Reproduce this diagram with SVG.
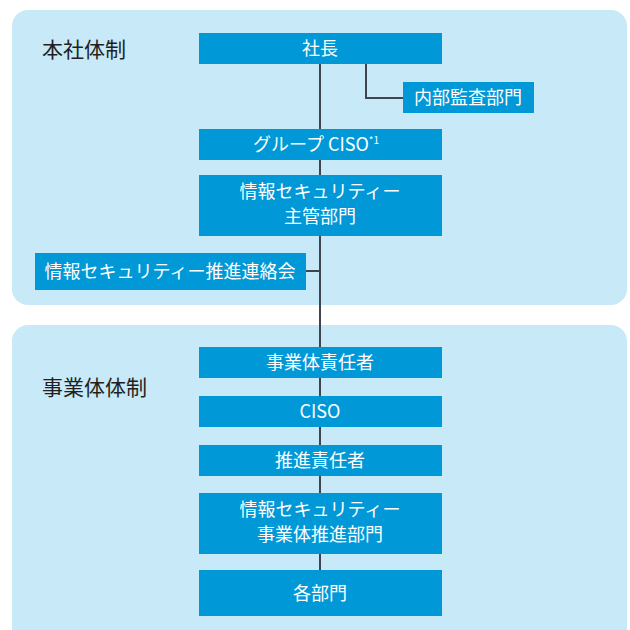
<svg xmlns="http://www.w3.org/2000/svg" width="630" height="630" viewBox="0 0 630 630">
<style>
.panel{fill:#c8e9f8}
.box{fill:#0098d7}
.t{font-family:"Noto Sans CJK JP","Noto Sans",sans-serif;font-size:18px;fill:#ffffff;text-anchor:middle}
.lab{font-family:"Noto Sans CJK JP","Noto Sans",sans-serif;font-size:21px;fill:#231f20}
.ln{stroke:#3d4650;stroke-width:2;fill:none}
</style>
<rect class="panel" x="12" y="10" width="615" height="295" rx="16"/>
<rect class="panel" x="12" y="325" width="615" height="330" rx="16"/>
<text class="lab" x="42" y="57">本社体制</text>
<text class="lab" x="42" y="395">事業体体制</text>
<g id="connectors">
<path class="ln" d="M320 63 V570"/>
<path class="ln" d="M366 63 V98 H403"/>
<path class="ln" d="M306 271 H320"/>
</g>
<g id="n1"><rect class="box" x="199" y="33" width="243" height="31"/><text class="t" x="320" y="55">社長</text></g>
<g id="n2"><rect class="box" x="403" y="82" width="131" height="31"/><text class="t" x="468" y="104">内部監査部門</text></g>
<g id="n3"><rect class="box" x="199" y="129" width="243" height="31"/><text class="t" x="316" y="151">グループ CISO<tspan font-size="10" dy="-7">*1</tspan></text></g>
<g id="n4"><rect class="box" x="199" y="175" width="243" height="61"/><text class="t" x="320" y="198">情報セキュリティー</text><text class="t" x="320" y="223">主管部門</text></g>
<g id="n5"><rect class="box" x="35" y="253" width="271" height="37"/><text class="t" x="170" y="278">情報セキュリティー推進連絡会</text></g>
<g id="n6"><rect class="box" x="199" y="347" width="243" height="31"/><text class="t" x="320" y="369">事業体責任者</text></g>
<g id="n7"><rect class="box" x="199" y="396" width="243" height="31"/><text class="t" x="320" y="418">CISO</text></g>
<g id="n8"><rect class="box" x="199" y="445" width="243" height="31"/><text class="t" x="320" y="467">推進責任者</text></g>
<g id="n9"><rect class="box" x="199" y="493" width="243" height="61"/><text class="t" x="320" y="516">情報セキュリティー</text><text class="t" x="320" y="541">事業体推進部門</text></g>
<g id="n10"><rect class="box" x="199" y="570" width="243" height="46"/><text class="t" x="320" y="600">各部門</text></g>
</svg>
